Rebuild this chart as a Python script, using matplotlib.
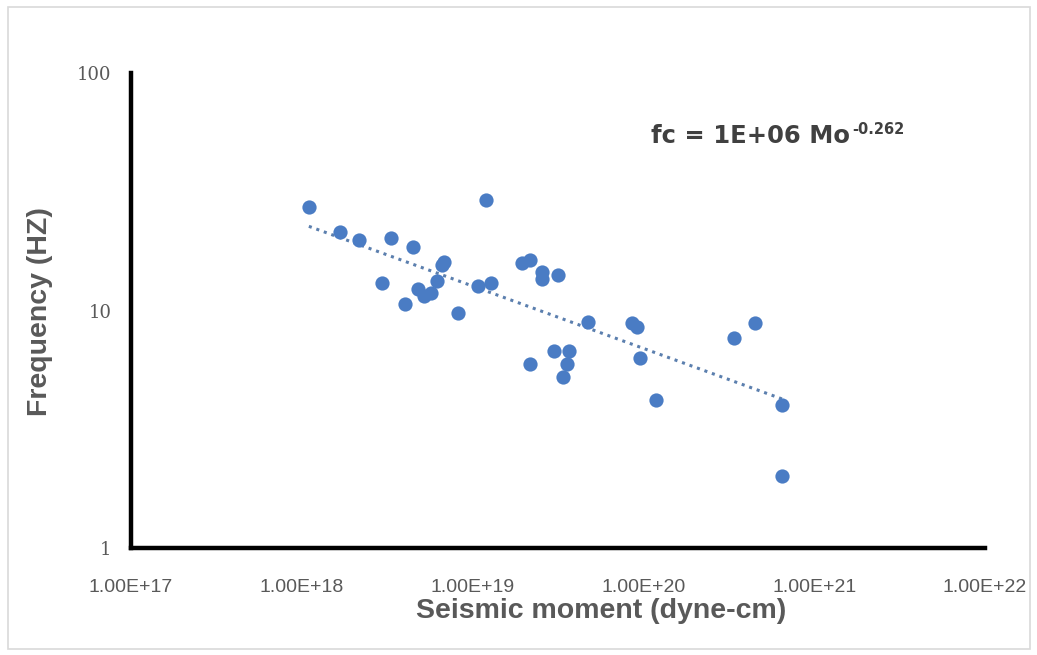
import numpy as np
import matplotlib
matplotlib.use("Agg")
import matplotlib.pyplot as plt
from matplotlib.patches import Rectangle

# Data
moment = [1.10e18, 1.67e18, 2.15e18, 3.31e18, 4.46e18, 2.94e18, 4.0e18, 4.77e18,
          5.17e18, 5.67e18, 6.23e18, 6.59e18, 6.76e18, 8.17e18, 1.08e19, 1.19e19,
          1.29e19, 1.94e19, 2.18e19, 2.56e19, 2.56e19, 3.18e19, 2.18e19, 2.98e19,
          3.69e19, 3.55e19, 3.40e19, 4.71e19, 8.63e19, 9.22e19, 9.60e19, 1.19e20,
          3.41e20, 4.52e20, 6.50e20, 6.50e20]
freq = [27.3, 21.4, 19.8, 20.2, 18.5, 13.1, 10.6, 12.3,
        11.5, 11.9, 13.3, 15.6, 16.0, 9.76, 12.7, 29.2,
        13.1, 15.8, 16.3, 14.5, 13.6, 14.1, 5.96, 6.74,
        6.74, 5.96, 5.25, 8.96, 8.86, 8.53, 6.31, 4.2,
        7.66, 8.86, 4.0, 2.01]
xticks = [1e17, 1e18, 1e19, 1e20, 1e21, 1e22]
xtick_labels = ["1.00E+17", "1.00E+18", "1.00E+19", "1.00E+20", "1.00E+21", "1.00E+22"]
yticks = [1, 10, 100]
ytick_labels = ["1", "10", "100"]

W, H = 1037, 655
fig = plt.figure(figsize=(W / 100, H / 100), dpi=100)
fig.patch.set_facecolor("white")
fig.add_artist(Rectangle((8 / W, 6 / H), 1022 / W, 642 / H, transform=fig.transFigure,
                         fill=False, edgecolor="#d9d9d9", linewidth=1.2))

ax = fig.add_axes([131 / W, 1 - 548 / H, (985 - 131) / W, (548 - 73) / H])
ax.set_xscale("log")
ax.set_yscale("log")
ax.set_xlim(1e17, 1e22)
ax.set_ylim(1, 100)

ax.scatter(moment, freq, s=105, color="#4a7cc4", zorder=3, linewidths=0)

# power-law trendline (least squares in log-log space)
lx = np.log10(moment)
ly = np.log10(freq)
b, a = np.polyfit(lx, ly, 1)
xt = np.logspace(lx.min(), lx.max(), 100)
ax.plot(xt, 10 ** (a + b * np.log10(xt)), linestyle=(0, (1, 1.6)), color="#5b7fae",
        linewidth=2.2, zorder=2)

for s in ["top", "right"]:
    ax.spines[s].set_visible(False)
for s in ["left", "bottom"]:
    ax.spines[s].set_linewidth(3.2)
    ax.spines[s].set_color("black")

ax.set_xticks(xticks)
ax.set_xticklabels(xtick_labels)
ax.set_yticks(yticks)
ax.set_yticklabels(ytick_labels)
ax.minorticks_off()
ax.tick_params(axis="both", length=0)
ax.tick_params(axis="x", pad=22, labelsize=14, labelcolor="#595959")
ax.tick_params(axis="y", pad=14, labelsize=13, labelcolor="#595959")
for lab in ax.get_xticklabels():
    lab.set_family(["Liberation Sans", "DejaVu Sans"])
for lab in ax.get_yticklabels():
    lab.set_family(["DejaVu Serif"])

fig.text(601 / W, 1 - 611 / H, "Seismic moment (dyne-cm)", ha="center", va="center",
         fontsize=20.5, fontweight="bold", color="#595959",
         family=["Liberation Sans", "DejaVu Sans"])
fig.text(40 / W, 1 - 312 / H, "Frequency (HZ)", ha="center", va="center", rotation=90,
         fontsize=20.5, fontweight="bold", color="#595959",
         family=["Liberation Sans", "DejaVu Sans"])

t1 = fig.text(651 / W, 1 - 136 / H, "fc = 1E+06 Mo", ha="left", va="center",
              fontsize=17.5, fontweight="bold", color="#404040")
fig.canvas.draw()
bb = t1.get_window_extent()
fig.text(bb.x1 / W + 2 / W, 1 - 129 / H, "-0.262", ha="left", va="center",
         fontsize=10.5, fontweight="bold", color="#404040")

fig.savefig("out.png", dpi=100)
